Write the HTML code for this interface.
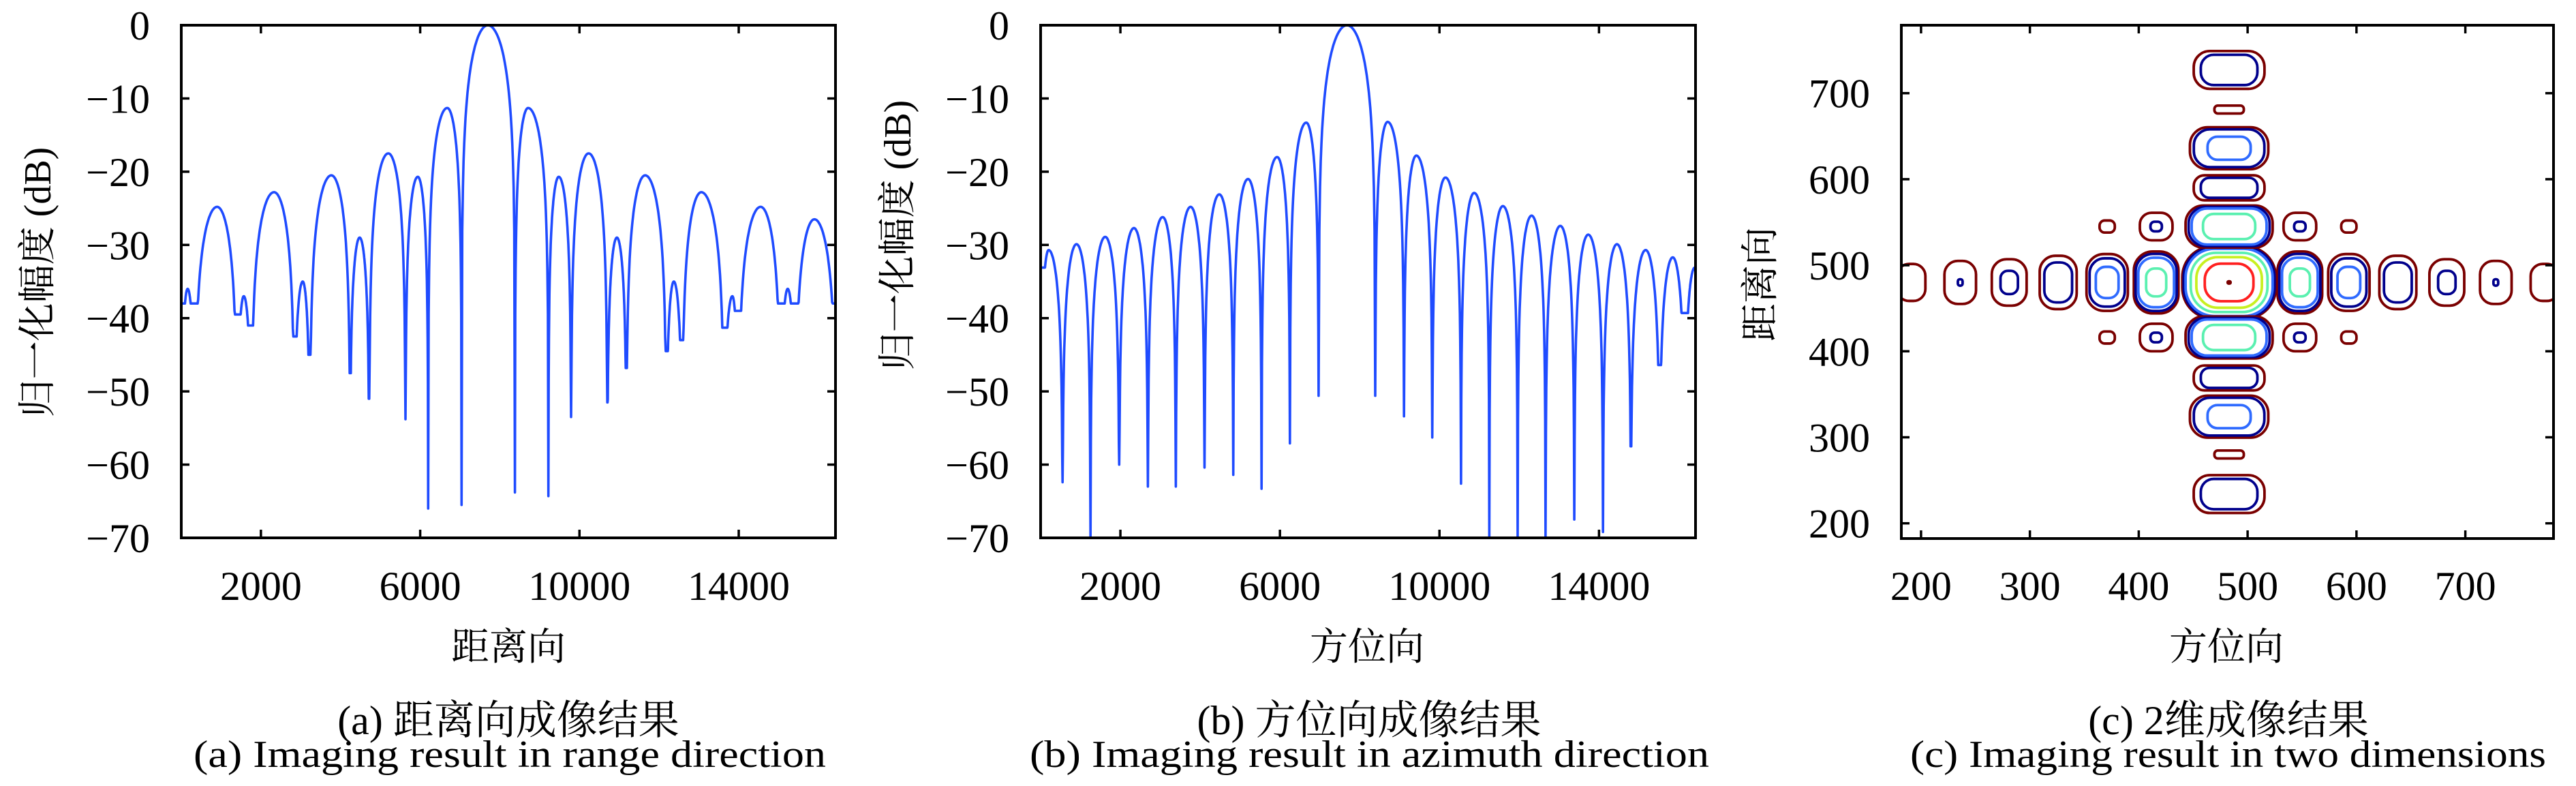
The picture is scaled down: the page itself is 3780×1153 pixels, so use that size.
<!DOCTYPE html>
<html><head><meta charset="utf-8"><style>
html,body{margin:0;padding:0;background:#fff;}
svg{display:block;}
text{font-family:"Liberation Serif","Noto Serif CJK SC",serif;fill:#000;}
</style></head><body>
<svg id="fig" width="3780" height="1153" viewBox="0 0 3780 1153" xmlns="http://www.w3.org/2000/svg">
<g id="pa"></g>
<g id="pb"></g>
<g id="pc"></g>

<text x="746" y="968" font-size="56" text-anchor="middle">距离向</text>
<text transform="translate(74,414) rotate(-90)" font-size="56" text-anchor="middle">归一化幅度 (dB)</text>
<text x="746" y="1077" font-size="60" text-anchor="middle">(a) 距离向成像结果</text>
<text x="284" y="1125" font-size="56" textLength="928" lengthAdjust="spacingAndGlyphs">(a) Imaging result in range direction</text>

<text x="2006" y="968" font-size="56" text-anchor="middle">方位向</text>
<text transform="translate(1336,345) rotate(-90)" font-size="56" text-anchor="middle">归一化幅度 (dB)</text>
<text x="2009" y="1077" font-size="60" text-anchor="middle">(b) 方位向成像结果</text>
<text x="1511" y="1125" font-size="56" textLength="997" lengthAdjust="spacingAndGlyphs">(b) Imaging result in azimuth direction</text>

<text x="3267" y="968" font-size="56" text-anchor="middle">方位向</text>
<text transform="translate(2602,417) rotate(-90)" font-size="56" text-anchor="middle">距离向</text>
<text x="3270" y="1077" font-size="60" text-anchor="middle">(c) 2维成像结果</text>
<text x="2803" y="1125" font-size="56" textLength="933" lengthAdjust="spacingAndGlyphs">(c) Imaging result in two dimensions</text>
</svg>
<script>
// ---- Panel (a): range profile (x in thousands, dB) ----
const rangePeakX = [0.16,0.9,1.57,2.33,3.05,3.77,4.48,5.2,5.94,6.68,7.7,8.71,9.48,10.23,10.94,11.65,12.37,13.06,13.84,14.55,15.23,15.9];
const rangePeakDb = [-36,-24.8,-37,-22.8,-35,-20.5,-29,-17.5,-20.7,-11.3,0,-11.3,-20.7,-17.5,-29,-20.5,-35,-22.8,-37,-24.8,-36,-26.5];
const rangeNullX = [0.34,1.4,1.76,2.84,3.23,4.24,4.72,5.63,6.2,7.04,8.38,9.22,9.79,10.7,11.18,12.18,12.58,13.63,13.99,15.05,15.42];
const rangeNullDb = [-38,-39.5,-41,-42.5,-45,-47.5,-51,-53.8,-66,-65.5,-63.8,-64.3,-53.5,-51.5,-46.8,-44.5,-43,-41.3,-39,-38,-38];
const rangeEnds = [[0,-38],[16.44,-38]];
// ---- Panel (b): azimuth profile ----
const azPeakX = [0.2,0.9,1.62,2.34,3.06,3.76,4.48,5.2,5.93,6.66,7.68,8.7,9.42,10.15,10.87,11.59,12.31,13.03,13.73,14.45,15.17,15.85];
const azPeakDb = [-30.7,-29.9,-28.9,-27.7,-26.2,-24.8,-23.1,-21,-18,-13.3,0,-13.2,-17.8,-20.8,-22.9,-24.7,-26,-27.4,-28.6,-29.9,-30.7,-31.7];
const azNullX = [0.55,1.25,1.97,2.69,3.39,4.11,4.83,5.54,6.25,6.97,8.39,9.11,9.82,10.54,11.25,11.96,12.66,13.38,14.1,14.8,15.52,16.15];
const azNullDb = [-62.4,-70,-60,-63,-63,-60.4,-61.4,-63.3,-57.1,-50.6,-50.6,-53.4,-56.3,-62.6,-70,-70,-70,-67.5,-69.2,-57.5,-46.4,-39.3];
const azEnds = [[0,-33.1],[16.4,-33.1]];
const profXTicks = [2000,6000,10000,14000];
const profYTicks = [0,-10,-20,-30,-40,-50,-60,-70];
// ---- Panel (c): contour blobs ----
const blobAz = [191,236,281,326,371,416,483,548,593,638,683,728,773, 483,483,483,483,483,483,483,483,483,483, 371,416,548,593,371,416,548,593];
const blobRg = [480,480,480,480,480,480,480,480,480,480,480,480,480, 727,681,636,590,545,416,369,324,280,234, 545,545,545,545,416,416,416,416];
const blobW  = [13,14.5,16,17,19,20.5,43,20.5,19,17,16,14.5,13, 32.5,13.5,36,32.5,40,40,32.5,36,13.5,32.5, 7,15,15,7,7,15,15,7];
const blobH  = [21.5,25,27,31,33,36,42,36,33,31,27,25,21.5, 22,4.6,24.4,14.5,24.4,24.4,14.5,24.4,4.6,22, 7,16,16,7,7,16,16,7];
const blobRings = [[1],[1,0.15],[1,0.5],[1,0.75],[1,0.85,0.55],[1,0.92,0.8,0.45],[1,0.97,0.93,0.82,0.7,0.52,0.03],[1,0.92,0.8,0.45],[1,0.85,0.55],[1,0.75],[1,0.5],[1,0.15],[1],
  [1,0.8],[1],[1,0.9,0.55],[1,0.8],[1,0.93,0.86,0.6],[1,0.93,0.86,0.6],[1,0.8],[1,0.9,0.55],[1],[1,0.8],
  [1],[1,0.35],[1,0.35],[1],[1],[1,0.35],[1,0.35],[1]];
const contourXTicks = [200,300,400,500,600,700];
const contourYTicks = [200,300,400,500,600,700];
const ringColors = ['#7a0000','#00008c','#2f6bff','#5af0b0','#c8f020','#ff2020','#7a0000'];

const NS='http://www.w3.org/2000/svg';
function mk(tag, attrs, parent){const e=document.createElementNS(NS,tag);for(const k in attrs)e.setAttribute(k,attrs[k]);parent.appendChild(e);return e;}

function frame(g, L, R, T, B, xs, ys, xt, yt, xfmt){
  xt.forEach(v=>{const x=xs(v);
    const t1=mk('line',{x1:x,x2:x,y1:B,y2:B-12,stroke:'#000','stroke-width':3.5},g);
    
    
    const t2=mk('line',{x1:x,x2:x,y1:T,y2:T+12,stroke:'#000','stroke-width':3.5},g);
    
    
    const lb=mk('text',{x:x,y:880,'font-size':60,'text-anchor':'middle'},g);lb.textContent=xfmt(v);
    
    
  });
  yt.forEach(v=>{const y=ys(v);
    const t1=mk('line',{x1:L,x2:L+12,y1:y,y2:y,stroke:'#000','stroke-width':3.5},g);
    
    
    const t2=mk('line',{x1:R,x2:R-12,y1:y,y2:y,stroke:'#000','stroke-width':3.5},g);
    
    
    const lb=mk('text',{x:L-46,y:y+21,'font-size':60,'text-anchor':'end'},g);lb.textContent=(v<0?'\u2212'+(-v):String(v));
    
    
  });
  const fr=mk('rect',{x:L,y:T,width:R-L,height:B-T,fill:'none',stroke:'#000','stroke-width':4},g);
  
  
}

function profile(gid, L, R, xmaxK, peakX, peakDb, nullX, nullDb, ends){
  const g=document.getElementById(gid);
  const T=37,B=789;
  const xs=v=>L+(v/1000)/xmaxK*(R-L);
  const xk=v=>L+v/xmaxK*(R-L);
  const ys=d=>T+(-d)/70*(B-T);
  const anchors=[{x:ends[0][0],d:ends[0][1],n:true}];
  for(let i=0;i<peakX.length;i++){
    anchors.push({x:peakX[i],d:peakDb[i],n:false});
    if(i<nullX.length) anchors.push({x:nullX[i],d:nullDb[i],n:true});
  }
  anchors.push({x:ends[1][0],d:ends[1][1],n:true});
  let pts=[];
  for(let i=0;i<anchors.length-1;i++){
    const a=anchors[i],b=anchors[i+1];
    const pk=a.n?b:a, nl=a.n?a:b;
    const steps=40;
    for(let s=0;s<=steps;s++){
      const f=s/steps; const x=a.x+(b.x-a.x)*f;
      const t=Math.abs(x-pk.x)/Math.max(1e-6,Math.abs(nl.x-pk.x));
      let d=pk.d+20*Math.log10(Math.max(1e-6,Math.cos(Math.PI*t/2)));
      if(d<nl.d)d=nl.d;
      pts.push(xk(x).toFixed(1)+','+ys(Math.max(-70,d)).toFixed(1));
    }
  }
  const cl=mk('clipPath',{id:gid+'clip'},g);
  mk('rect',{x:L,y:T-3,width:R-L,height:B-T+3},cl);
  const pl=mk('polyline',{points:pts.join(' '),fill:'none',stroke:'#1f4bff','stroke-width':3.6,'stroke-linejoin':'round','clip-path':'url(#'+gid+'clip)'},g);
  
  
  frame(g,L,R,T,B,xs,d=>ys(d),profXTicks,profYTicks,String);
}
profile('pa',266,1226,16.43,rangePeakX,rangePeakDb,rangeNullX,rangeNullDb,rangeEnds);
profile('pb',1527,2488,16.42,azPeakX,azPeakDb,azNullX,azNullDb,azEnds);

(function(){
  const g=document.getElementById('pc');
  const L=2790,R=3747,T=37,B=790, x0=181.9,x1=781,y0=182.3,y1=779;
  const xs=v=>L+(v-x0)/(x1-x0)*(R-L);
  const ys=v=>B-(v-y0)/(y1-y0)*(B-T);
  const cl=mk('clipPath',{id:'pcclip'},g);
  mk('rect',{x:L,y:T,width:R-L,height:B-T},cl);
  const cg=mk('g',{'clip-path':'url(#pcclip)'},g);
  for(let i=0;i<blobAz.length;i++){
    const cx=xs(blobAz[i]), cy=ys(blobRg[i]);
    const w=blobW[i]*(R-L)/(x1-x0), h=blobH[i]*(B-T)/(y1-y0);
    blobRings[i].forEach((s,k)=>{
      const rw=w*s, rh=h*s;
      const rr=Math.min(rw,rh)*0.85;
      const r=mk('rect',{x:cx-rw,y:cy-rh,width:2*rw,height:2*rh,rx:rr,ry:rr,fill:'none',stroke:ringColors[k],'stroke-width':k===6?4:3.8},cg);
      
      
    });
  }
  frame(g,L,R,T,B,xs,ys,contourXTicks,contourYTicks,String);
})();
</script>
</body></html>
